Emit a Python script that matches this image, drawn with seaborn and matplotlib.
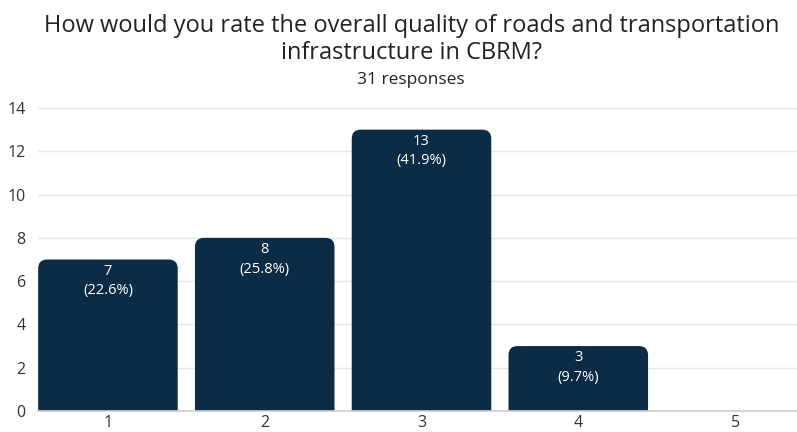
import matplotlib
matplotlib.use("Agg")
import matplotlib.pyplot as plt
import seaborn as sns
import pandas as pd
from matplotlib.patches import FancyBboxPatch

categories = ["1", "2", "3", "4", "5"]
counts = [7, 8, 13, 3, 0]
percent_labels = ["(22.6%)", "(25.8%)", "(41.9%)", "(9.7%)", ""]
title = "How would you rate the overall quality of roads and transportation\ninfrastructure in CBRM?"
subtitle = "31 responses"
yticks = [0, 2, 4, 6, 8, 10, 12, 14]

sns.set_theme(style="white")
plt.rcParams['font.family'] = ['Open Sans', 'DejaVu Sans']

BAR = "#0c2b44"
df = pd.DataFrame({"cat": categories, "count": counts})

fig = plt.figure(figsize=(7.97, 4.32), dpi=100)
ax = fig.add_axes([0.0477, 0.0486, 1.0 - 0.0477, 0.75 - 0.0486])
sns.barplot(data=df, x="cat", y="count", color=BAR, width=0.89, ax=ax, saturation=1)

ax.set_xlim(-0.446, 4.395)
ax.set_ylim(0, 14)
ax.set_yticks(yticks)
ax.yaxis.grid(True, color="#e6e6e6", linewidth=1)
ax.set_axisbelow(True)
for s in ["top", "right", "left"]:
    ax.spines[s].set_visible(False)
ax.spines["bottom"].set_color("#cfcfcf")
ax.set_xlabel("")
ax.set_ylabel("")
ax.tick_params(axis="both", length=0, labelsize=11.5, colors="#333333")
ax.tick_params(axis="x", pad=3)
ax.tick_params(axis="y", pad=9)

# replace bars with rounded-top versions
fig.canvas.draw()
bb = ax.get_window_extent()
xr = ax.get_xlim(); yr = ax.get_ylim()
px_per_x = bb.width / (xr[1] - xr[0])
px_per_y = bb.height / (yr[1] - yr[0])
aspect = px_per_x / px_per_y
rad = 9 / px_per_x
patches = list(ax.patches)
for p, c in zip(patches, counts):
    x0, w, h = p.get_x(), p.get_width(), p.get_height()
    p.remove()
    if c <= 0:
        continue
    fb = FancyBboxPatch((x0, -2), w, h + 2,
                        boxstyle=f"round,pad=0,rounding_size={rad}",
                        mutation_aspect=aspect, facecolor=BAR, edgecolor="none",
                        zorder=2, clip_on=True)
    ax.add_patch(fb)

for i, (c, pl) in enumerate(zip(counts, percent_labels)):
    if c <= 0:
        continue
    ax.text(i, c - 0.2, f"{c}\n{pl}", ha="center", va="top", color="white",
            fontsize=10.5, linespacing=1.4, zorder=3)

fig.text(0.516, 0.968, title, ha="center", va="top", fontsize=17, color="#222222",
         linespacing=1.2)
fig.text(0.516, 0.815, subtitle, ha="center", va="center", fontsize=12.5, color="#222222")

fig.savefig("out.png", dpi=100)
